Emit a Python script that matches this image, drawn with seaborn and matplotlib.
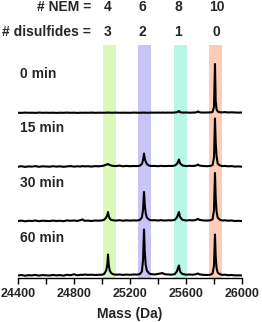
import numpy as np
import pandas as pd
import matplotlib
matplotlib.use("Agg")
import matplotlib.pyplot as plt
import matplotlib.transforms as mtransforms
import seaborn as sns

# mass axis shared by all spectra (Da)
mass = [
    24400, 24425, 24450, 24475, 24500, 24525, 24550, 24575, 24600, 24625,
    24650, 24675, 24700, 24725, 24750, 24775, 24800, 24825, 24850, 24860,
    24875, 24900, 24925, 24950, 24975, 25000, 25015, 25030, 25038, 25043,
    25048, 25055, 25065, 25080, 25100, 25125, 25150, 25175, 25200, 25225,
    25250, 25270, 25285, 25293, 25300, 25305, 25312, 25320, 25335, 25350,
    25375, 25400, 25425, 25430, 25450, 25475, 25500, 25520, 25535, 25544,
    25550, 25555, 25562, 25575, 25600, 25625, 25650, 25670, 25680, 25686,
    25695, 25720, 25750, 25775, 25790, 25800, 25807, 25812, 25818, 25826,
    25840, 25860, 25880, 25900, 25925, 25950, 25975, 26000,
]

# relative intensities
int_0min = [
    0.3, 0.1, 0.4, 0.2, 0.3, 0.1, 0.4, 0.2, 0.3, 0.2,
    0.3, 0.1, 0.3, 0.2, 0.4, 0.2, 0.3, 0.1, 0.3, 0.2,
    0.3, 0.2, 0.4, 0.2, 0.3, 0.3, 0.2, 0.4, 0.3, 0.5,
    0.3, 0.4, 0.2, 0.3, 0.4, 0.2, 0.3, 0.3, 0.2, 0.4,
    0.3, 0.2, 0.4, 0.3, 0.5, 0.3, 0.4, 0.2, 0.3, 0.4,
    0.3, 0.4, 0.3, 0.5, 0.3, 0.4, 0.3, 0.5, 0.8, 1.5,
    2.0, 1.0, 0.6, 0.4, 0.5, 0.3, 0.4, 0.6, 1.0, 1.6,
    0.7, 0.4, 0.5, 0.6, 1.0, 6.0, 49, 12, 4.0, 1.5,
    0.8, 0.6, 0.9, 0.5, 0.7, 0.5, 0.4, 0.5,
]
int_15min = [
    0.8, 1.3, 0.6, 1.1, 0.9, 1.4, 0.7, 1.2, 1.0, 0.8,
    1.3, 0.9, 1.2, 0.7, 1.1, 1.4, 0.9, 1.2, 1.0, 1.5,
    1.1, 1.3, 0.9, 1.4, 1.2, 1.5, 2.0, 2.8, 3.2, 3.5,
    3.0, 2.6, 2.0, 1.6, 1.4, 1.9, 1.2, 1.6, 1.3, 1.5,
    1.4, 1.8, 3.5, 7.0, 14, 9.0, 6.0, 3.5, 2.0, 1.5,
    1.6, 1.3, 1.7, 1.5, 1.4, 1.6, 1.5, 2.0, 3.5, 6.0,
    8.0, 5.0, 3.5, 2.0, 1.4, 1.7, 1.5, 1.9, 2.5, 3.0,
    2.0, 1.5, 1.3, 1.6, 2.5, 10, 49, 25, 12, 4.0,
    2.2, 1.4, 1.6, 1.2, 1.4, 0.9, 1.1, 0.8,
]
int_30min = [
    0.9, 1.4, 0.7, 1.2, 1.0, 1.5, 0.8, 1.3, 1.1, 0.9,
    1.4, 1.0, 1.3, 0.8, 1.6, 1.2, 1.5, 1.1, 2.0, 2.6,
    1.2, 1.4, 1.0, 1.5, 1.3, 1.6, 2.2, 4.5, 7.0, 10,
    6.0, 3.5, 2.2, 1.7, 1.4, 1.8, 1.3, 1.7, 1.4, 1.6,
    1.5, 2.0, 4.5, 12, 30, 18, 9.0, 4.5, 2.5, 1.7,
    1.8, 1.5, 1.9, 1.6, 1.5, 1.7, 1.6, 2.2, 4.5, 8.0,
    10, 6.0, 4.0, 2.2, 1.5, 1.8, 1.6, 2.0, 2.8, 3.2,
    2.2, 1.6, 1.4, 1.7, 2.8, 12, 49, 24, 11, 4.5,
    2.4, 1.5, 1.7, 1.3, 1.5, 1.0, 1.2, 0.9,
]
int_60min = [
    1.0, 1.5, 0.8, 1.3, 1.1, 1.6, 0.9, 1.4, 1.2, 1.0,
    1.5, 1.1, 1.4, 0.9, 1.7, 1.3, 2.2, 1.2, 1.8, 1.5,
    2.0, 1.6, 1.8, 1.5, 1.7, 1.8, 2.5, 6.0, 12, 22,
    12, 6.0, 3.5, 2.2, 1.8, 2.0, 1.6, 1.9, 1.7, 2.0,
    1.9, 2.4, 5.0, 16, 47, 26, 12, 6.0, 3.2, 2.4,
    2.0, 2.6, 3.2, 3.5, 2.2, 2.0, 1.8, 2.5, 5.0, 9.0,
    11, 6.5, 4.0, 2.5, 1.8, 2.0, 1.8, 2.2, 2.8, 3.0,
    2.2, 1.7, 1.5, 1.8, 3.0, 11, 42, 20, 9.0, 4.0,
    2.4, 1.6, 1.8, 1.3, 1.5, 1.1, 1.2, 1.0,
]

time_labels = ["0 min", "15 min", "30 min", "60 min"]
offsets = [165, 110.5, 56, 1.5]

# species bands
nem_counts = ["4", "6", "8", "10"]
disulfides = ["3", "2", "1", "0"]
band_lo = [25005, 25259, 25514, 25766]
band_hi = [25098, 25350, 25607, 25859]
label_mass = [25040, 25290, 25545, 25820]
band_colors = ["#daf8b8", "#c8c4f6", "#b8f6e6", "#fdccb6"]

sns.set_theme(style="white")
plt.rcParams["font.family"] = ["Liberation Sans", "DejaVu Sans"]
plt.rcParams["font.weight"] = "bold"

fig = plt.figure(figsize=(2.62, 3.22), dpi=100)
ax = fig.add_axes([18 / 262, 44 / 322, 224 / 262, 233 / 322])

for lo, hi, c in zip(band_lo, band_hi, band_colors):
    ax.axvspan(lo, hi, color=c, lw=0, zorder=0)

spectra = [int_0min, int_15min, int_30min, int_60min]
for vals, off, lab in zip(spectra, offsets, time_labels):
    df = pd.DataFrame({"mass": mass, "y": np.array(vals) + off})
    sns.lineplot(data=df, x="mass", y="y", ax=ax, color="black",
                 lw=1.5, estimator=None, sort=False, zorder=3)
    ax.text(24415, off + 39, lab, fontsize=10, fontweight="bold",
            ha="left", va="center")

ax.set_xlim(24400, 26000)
ax.set_ylim(0, 233)
ax.set_xticks([24400, 24800, 25200, 25600, 26000])
ax.set_xticks([24600, 25000, 25400, 25800], minor=True)
ax.tick_params(axis="x", which="both", direction="out", length=4, width=1,
               color="black", bottom=True, labelsize=9, pad=3)
ax.set_yticks([])
ax.set_ylabel("")
ax.set_xlabel("Mass (Da)", fontsize=10, fontweight="bold", labelpad=5)
for lbl in ax.get_xticklabels():
    lbl.set_fontweight("bold")
for side in ["left", "right", "top"]:
    ax.spines[side].set_visible(False)
ax.spines["bottom"].set_color("black")
ax.spines["bottom"].set_linewidth(1)

# header rows
fig.text(91 / 262, 1 - 7 / 322, "# NEM =", ha="right", va="center",
         fontsize=10, fontweight="bold")
fig.text(91 / 262, 1 - 32 / 322, "# disulfides =", ha="right", va="center",
         fontsize=10, fontweight="bold")
trans = mtransforms.blended_transform_factory(ax.transData, fig.transFigure)
for m, n, d in zip(label_mass, nem_counts, disulfides):
    ax.text(m, 1 - 7 / 322, n, transform=trans, ha="center", va="center",
            fontsize=10, fontweight="bold")
    ax.text(m, 1 - 32 / 322, d, transform=trans, ha="center", va="center",
            fontsize=10, fontweight="bold")

fig.savefig("out.png", dpi=100)
